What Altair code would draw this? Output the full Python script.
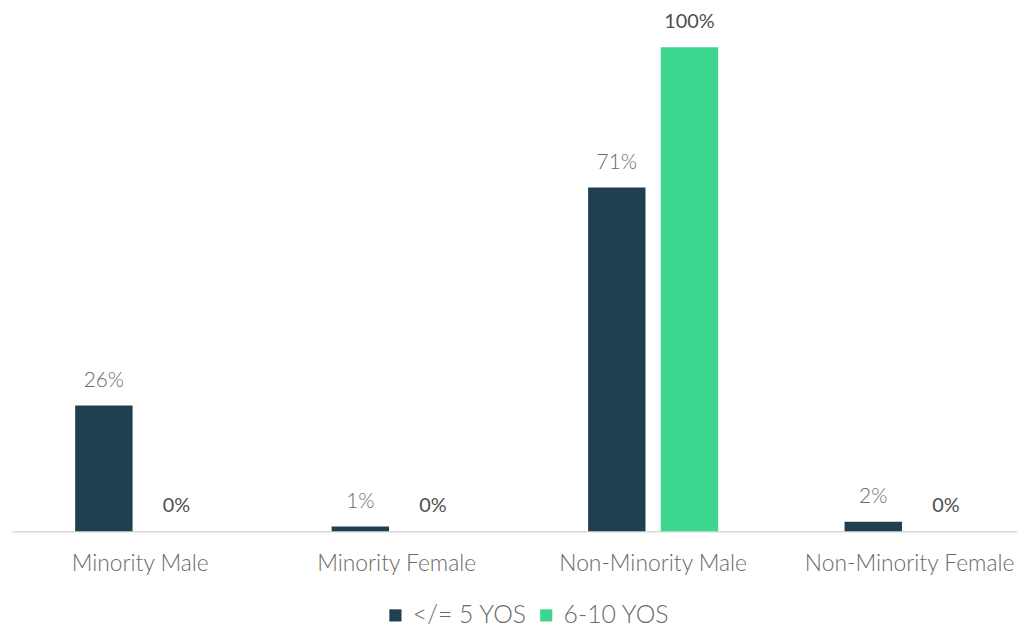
import altair as alt
import pandas as pd

categories = ["Minority Male", "Minority Female", "Non-Minority Male", "Non-Minority Female"]
series = ["</= 5 YOS", "6-10 YOS"]
yos_0_5 = [0.26, 0.01, 0.71, 0.02]
yos_6_10 = [0.0, 0.0, 1.0, 0.0]
colors = ["#203f50", "#3dd68f"]

rows = []
for c, a, b in zip(categories, yos_0_5, yos_6_10):
    rows.append({"cat": c, "series": series[0], "value": a})
    rows.append({"cat": c, "series": series[1], "value": b})
df = pd.DataFrame(rows)

FONT = "Lato"
GRAY = "#6a6a6a"

x = alt.X("cat:N", sort=categories, title=None,
          scale=alt.Scale(paddingInner=0, paddingOuter=0),
          axis=alt.Axis(labelAngle=0, labelFontSize=23, labelColor=GRAY, labelFont=FONT,
                        labelFontWeight=300, labelLimit=0,
                        ticks=False, domainColor="#d9d9d9", labelPadding=21, domainWidth=1.5))
xo = alt.XOffset("series:N", sort=series,
                 scale=alt.Scale(paddingInner=0.21, paddingOuter=0.87))
y = alt.Y("value:Q", scale=alt.Scale(domain=[0, 1]), axis=None)

bars = alt.Chart(df).mark_bar().encode(
    x=x, xOffset=xo, y=y,
    color=alt.Color("series:N", sort=series,
                    scale=alt.Scale(domain=series, range=colors),
                    legend=alt.Legend(title=None, orient="none", direction="horizontal",
                                      legendX=374, legendY=560,
                                      symbolType="square", symbolSize=150, symbolStrokeWidth=0,
                                      labelFontSize=25, labelColor=GRAY, labelFont=FONT,
                                      labelFontWeight=300, labelLimit=0,
                                      columnPadding=6, labelOffset=5)),
)

labels_a = alt.Chart(df).transform_filter(alt.datum.series == series[0]).mark_text(
    baseline="middle", dy=-25, fontSize=21, color="#6a6a6a", font=FONT, fontWeight=300
).encode(x=x, xOffset=xo, y=y, text=alt.Text("value:Q", format=".0%"))

labels_b = alt.Chart(df).transform_filter(alt.datum.series == series[1]).mark_text(
    baseline="middle", dy=-25, fontSize=20, color="#505050", font=FONT
).encode(x=x, xOffset=xo, y=y, text=alt.Text("value:Q", format=".0%"))

chart = (bars + labels_a + labels_b).properties(
    width=1034, height=488,
    padding={"left": 4, "top": 2, "right": -21, "bottom": 0},
).configure(font=FONT, background="white").configure_view(strokeWidth=0)

chart.save("out.html", embed_options={"renderer": "svg", "actions": False})
